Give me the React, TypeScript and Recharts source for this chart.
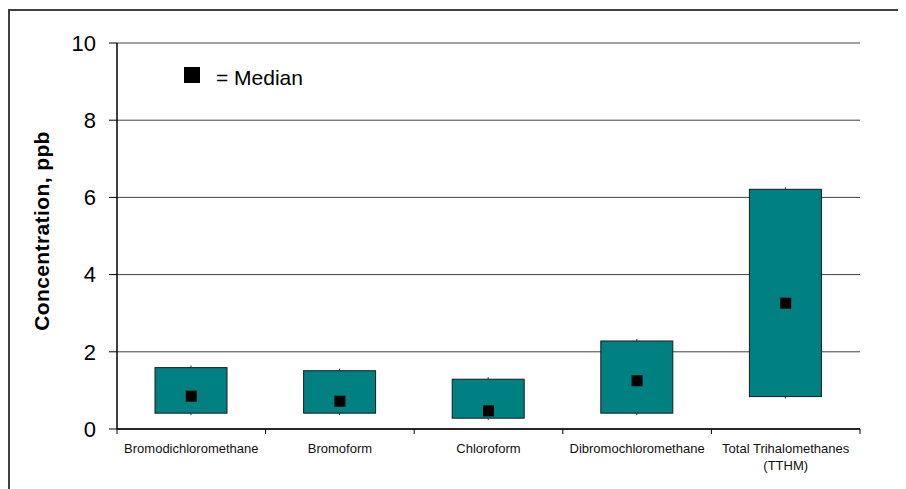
import { ComposedChart, Bar, Scatter, XAxis, YAxis, CartesianGrid } from 'recharts';

const categories = ['Bromodichloromethane', 'Bromoform', 'Chloroform', 'Dibromochloromethane', 'Total Trihalomethanes (TTHM)'];
const lows = [0.41, 0.41, 0.28, 0.41, 0.84];
const highs = [1.59, 1.51, 1.29, 2.28, 6.21];
const medians = [0.85, 0.72, 0.47, 1.25, 3.26];
const yTicks = [0, 2, 4, 6, 8, 10];

const chartData = categories.map((name, i) => ({
  name,
  low: lows[i],
  high: highs[i],
  median: medians[i],
}));

const FONT = '"Liberation Sans", Arial, sans-serif';

const MedianSquare = (props: any) => {
  const { cx, cy } = props;
  if (cx == null || cy == null) return null;
  return <rect x={cx - 5.5} y={cy - 5.5} width={11} height={11} fill="#000" />;
};

// range box with the little whisker stubs at the middle of top and bottom edges
const RangeBox = (props: any) => {
  const { x, y, width, height } = props;
  if (x == null || y == null) return null;
  const top = Math.min(y, y + height);
  const h = Math.abs(height);
  const mid = x + width / 2;
  return (
    <g>
      <line x1={mid} y1={top - 2} x2={mid} y2={top} stroke="#333" />
      <line x1={mid} y1={top + h} x2={mid} y2={top + h + 2} stroke="#333" />
      <rect x={x} y={top} width={width} height={h} fill="#008080" stroke="#1a1a1a" strokeWidth={1} />
    </g>
  );
};

const CategoryTick = (props: any) => {
  const { x, y, payload, index } = props;
  const off = payload.offset || 0;
  const left = payload.coordinate - off;
  const right = payload.coordinate + off;
  const words = String(payload.value);
  const lines = words.startsWith('Total') ? ['Total Trihalomethanes', '(TTHM)'] : [words];
  return (
    <g>
      <line x1={left} y1={y} x2={left} y2={y + 5} stroke="#000" strokeWidth={1} />
      {index === categories.length - 1 && (
        <line x1={right} y1={y} x2={right} y2={y + 5} stroke="#000" strokeWidth={1} />
      )}
      {lines.map((t, i) => (
        <text key={i} x={x} y={y + 24 + i * 17} textAnchor="middle" fontSize={13} fontFamily={FONT} fill="#111">
          {t}
        </text>
      ))}
    </g>
  );
};

const App = () => {
  return (
    <div style={styles.wrap}>
      <div style={styles.frame} />
      <ComposedChart
        width={898}
        height={481}
        data={chartData}
        margin={{ top: 35, right: 46, left: 0, bottom: 0 }}
        style={{ position: 'absolute', left: 0, top: 0 }}
      >
        <CartesianGrid horizontal vertical={false} stroke="#404040" strokeWidth={1} />
        <XAxis
          dataKey="name"
          height={60}
          tickSize={0}
          tickMargin={0}
          interval={0}
          tickLine={false}
          axisLine={{ stroke: '#000', strokeWidth: 1.5 }}
          tick={<CategoryTick />}
        />
        <YAxis
          width={109}
          domain={[0, 10]}
          ticks={yTicks}
          tickSize={8}
          tickMargin={13}
          interval={0}
          tickLine={{ stroke: '#000' }}
          axisLine={{ stroke: '#000', strokeWidth: 1.5 }}
          tick={{ fontSize: 22, fill: '#000', fontFamily: FONT }}
        />
        <YAxis
          yAxisId="right"
          orientation="right"
          width={0}
          domain={[0, 10]}
          tick={false}
          tickLine={false}
          axisLine={{ stroke: '#000', strokeWidth: 1.5 }}
        />
        <XAxis
          xAxisId="top"
          orientation="top"
          dataKey="name"
          height={0}
          tick={false}
          tickLine={false}
          axisLine={{ stroke: '#000', strokeWidth: 1.5 }}
        />
        <Bar
          dataKey={(d: any) => [d.low, d.high]}
          fill="#008080"
          barSize={72}
          shape={<RangeBox />}
          isAnimationActive={false}
        />
        <Scatter dataKey="median" shape={<MedianSquare />} isAnimationActive={false} />
      </ComposedChart>
      <div style={styles.yLabel}>Concentration, ppb</div>
      <div style={styles.legendBox} />
      <div style={styles.legendText}>= Median</div>
    </div>
  );
};

const styles: any = {
  wrap: { position: 'relative', width: 898, height: 481, fontFamily: FONT, overflow: 'hidden' },
  frame: { position: 'absolute', left: 0, top: 1, width: 920, height: 500, borderTop: '2px solid #404040', borderLeft: '2px solid #404040' },
  yLabel: {
    position: 'absolute', left: 34, top: 223, width: 0, height: 0, whiteSpace: 'nowrap',
    fontSize: 21, fontWeight: 'bold', letterSpacing: 0.4, color: '#000',
    transform: 'rotate(-90deg)', display: 'flex', alignItems: 'center', justifyContent: 'center',
  },
  legendBox: { position: 'absolute', left: 176, top: 59, width: 16, height: 16, background: '#000' },
  legendText: { position: 'absolute', left: 208, top: 59, fontSize: 21, lineHeight: '21px', color: '#000', whiteSpace: 'nowrap' },
};

export default App;
